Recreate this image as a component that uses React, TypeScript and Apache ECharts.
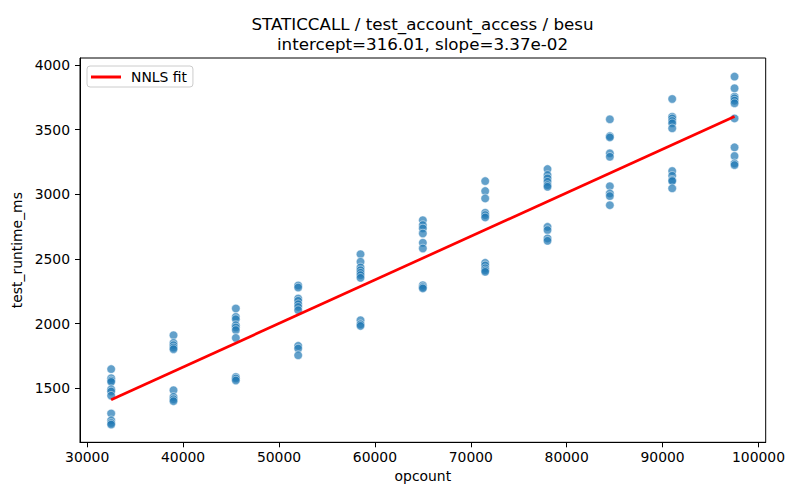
import React, { useEffect, useRef } from "react";
import * as echarts from "echarts";

const opcounts = [32500, 39000, 45500, 52000, 58500, 65000, 71500, 78000, 84500, 91000, 97500];

const rt32500 = [1648, 1578, 1560, 1549, 1492, 1475, 1442, 1305, 1252, 1231, 1219];
const rt39000 = [1910, 1851, 1833, 1815, 1802, 1485, 1433, 1415, 1400];
const rt45500 = [2117, 2052, 2034, 1988, 1970, 1950, 1889, 1587, 1575, 1560];
const rt52000 = [2295, 2279, 2194, 2176, 2150, 2129, 2104, 1828, 1807, 1755];
const rt58500 = [2537, 2478, 2434, 2413, 2393, 2375, 2354, 2026, 1995, 1982];
const rt65000 = [2800, 2762, 2736, 2697, 2625, 2581, 2297, 2282, 2272];
const rt71500 = [3102, 3025, 2968, 2857, 2839, 2821, 2470, 2450, 2428, 2412, 2400];
const rt78000 = [3195, 3149, 3123, 3097, 3071, 3058, 2748, 2723, 2659, 2640];
const rt84500 = [3580, 3450, 3440, 3317, 3290, 3063, 3007, 2986, 2916];
const rt91000 = [3737, 3600, 3587, 3567, 3549, 3510, 3180, 3143, 3110, 3102, 3046];
const rt97500 = [3910, 3820, 3755, 3742, 3724, 3704, 3587, 3363, 3296, 3239, 3226];

const runtimes = [rt32500, rt39000, rt45500, rt52000, rt58500, rt65000, rt71500, rt78000, rt84500, rt91000, rt97500];

const fitX = [32500, 97500];
const fitY = [1411, 3602];

const xTicks = [30000, 40000, 50000, 60000, 70000, 80000, 90000, 100000];
const yTicks = [1500, 2000, 2500, 3000, 3500, 4000];

const titleLine1 = "STATICCALL / test_account_access / besu";
const titleLine2 = "intercept=316.01, slope=3.37e-02";

const FONT = "DejaVu Sans";

export default function App() {
  const ref = useRef<HTMLDivElement>(null);

  useEffect(() => {
    if (!ref.current) return;
    const chart = echarts.init(ref.current, null, { renderer: "svg" });

    const points: number[][] = [];
    opcounts.forEach((x, i) => {
      runtimes[i].forEach((y) => points.push([x, y]));
    });
    const fitLine = fitX.map((x, i) => [x, fitY[i]]);

    chart.setOption({
      animation: false,
      backgroundColor: "#fff",
      textStyle: { fontFamily: FONT },
      graphic: [
        {
          type: "text",
          x: 422.5,
          y: 23.5,
          style: {
            text: titleLine1,
            fontFamily: FONT,
            fontSize: 16.7,
            fill: "#000",
            align: "center",
            verticalAlign: "middle",
          },
        },
        {
          type: "text",
          x: 422.5,
          y: 43.5,
          style: {
            text: titleLine2,
            fontFamily: FONT,
            fontSize: 16.7,
            fill: "#000",
            align: "center",
            verticalAlign: "middle",
          },
        },
      ],
      legend: {
        left: 87,
        top: 66,
        padding: [4, 6, 3, 4],
        borderColor: "#cccccc",
        borderWidth: 1,
        borderRadius: 3,
        backgroundColor: "rgba(255,255,255,0.8)",
        itemWidth: 30,
        itemHeight: 3,
        textStyle: { fontFamily: FONT, fontSize: 13.9, color: "#000", padding: [0, 0, 0, 5] },
        data: [{ name: "NNLS fit", icon: "rect", itemStyle: { color: "#ff0000" } }],
      },
      grid: {
        left: 80,
        right: 34.3,
        top: 58,
        bottom: 57.7,
        show: true,
        borderColor: "#000",
        borderWidth: 1,
        backgroundColor: "transparent",
      },
      xAxis: {
        type: "value",
        min: 29250,
        max: 100750,
        name: "opcount",
        nameLocation: "middle",
        nameGap: 27,
        nameTextStyle: { fontFamily: FONT, fontSize: 13.9, color: "#000" },
        axisLine: { show: true, lineStyle: { color: "#000", width: 1 } },
        axisTick: { show: true, length: 5, lineStyle: { color: "#000" }, customValues: xTicks },
        axisLabel: {
          fontFamily: FONT,
          fontSize: 13.9,
          color: "#000",
          margin: 8,
          customValues: xTicks,
          formatter: (v: number) => String(v),
        },
        splitLine: { show: false },
      },
      yAxis: {
        type: "value",
        min: 1082,
        max: 4054,
        name: "test_runtime_ms",
        nameLocation: "middle",
        nameGap: 47,
        nameRotate: 90,
        nameTextStyle: { fontFamily: FONT, fontSize: 13.9, color: "#000" },
        axisLine: { show: true, lineStyle: { color: "#000", width: 1 } },
        axisTick: { show: true, length: 5, lineStyle: { color: "#000" }, customValues: yTicks },
        axisLabel: {
          fontFamily: FONT,
          fontSize: 13.9,
          color: "#000",
          margin: 10,
          customValues: yTicks,
          formatter: (v: number) => String(v),
        },
        splitLine: { show: false },
      },
      series: [
        {
          name: "points",
          type: "scatter",
          data: points,
          symbolSize: 8.5,
          itemStyle: { color: "#1f77b4", opacity: 0.7, borderColor: "#ffffff", borderWidth: 0.7 },
          z: 2,
        },
        {
          name: "NNLS fit",
          type: "line",
          data: fitLine,
          showSymbol: false,
          symbol: "none",
          lineStyle: { color: "#ff0000", width: 2.7 },
          itemStyle: { color: "#ff0000" },
          z: 3,
        },
      ],
    });

    return () => chart.dispose();
  }, []);

  return (
    <div
      ref={ref}
      style={{ position: "fixed", left: 0, top: 0, width: 800, height: 500, background: "#fff" }}
    />
  );
}
